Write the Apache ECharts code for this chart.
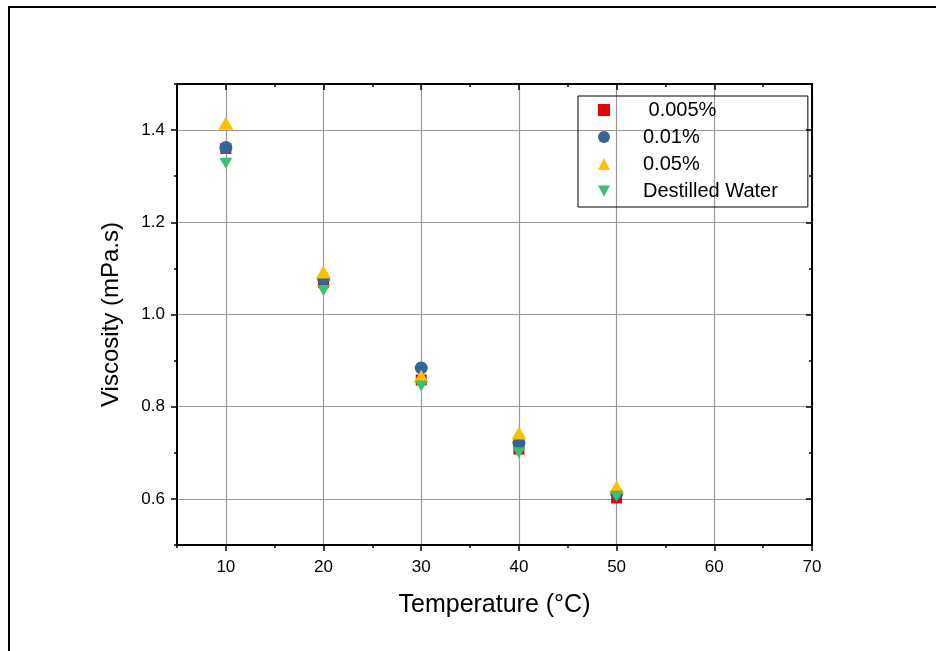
<!DOCTYPE html>
<html>
<head>
<meta charset="utf-8">
<script src="https://cdn.jsdelivr.net/npm/echarts@6/dist/echarts.min.js"></script>
<style>
  html, body { margin: 0; padding: 0; background: #fff; }
  #chart { width: 936px; height: 651px; }
</style>
</head>
<body>
<div id="chart"></div>
<script>
const temps = [10, 20, 30, 40, 50]
const visc005 = [1.360, 1.070, 0.858, 0.708, 0.602]
const visc01 = [1.362, 1.077, 0.884, 0.721, 0.612]
const visc05 = [1.415, 1.092, 0.866, 0.743, 0.626]
const water = [1.328, 1.052, 0.845, 0.700, 0.606]

const xTicks = [10, 20, 30, 40, 50, 60, 70]
const yTicks = [0.6, 0.8, 1.0, 1.2, 1.4]

const font = 'Liberation Sans, Arial, sans-serif'
const black = '#000'

const pair = (xs, ys) => xs.map((x, i) => [x, ys[i]])

// main axis: labels + long ticks on custom values, plus grid lines
const mainX = (position, showLabel) => ({
  type: 'value', position, min: 5, max: 70,
  axisLine: { show: true, onZero: false, lineStyle: { color: black, width: 2 } },
  axisTick: { show: true, inside: !showLabel, length: 6, customValues: xTicks, lineStyle: { color: black, width: 1.5 } },
  axisLabel: { show: showLabel, customValues: xTicks, color: black, fontSize: 17, fontFamily: font, margin: 14 },
  splitLine: { show: showLabel, lineStyle: { color: '#999', width: 1.2 } }
})
// minor axis: short ticks every 5
const minorX = (position, inside) => ({
  type: 'value', position, min: 5, max: 70, interval: 5,
  axisLine: { show: false, onZero: false },
  axisTick: { show: true, inside, length: 3, lineStyle: { color: black, width: 1.5 } },
  axisLabel: { show: false },
  splitLine: { show: false }
})
const mainY = (position, showLabel) => ({
  type: 'value', position, min: 0.5, max: 1.5,
  axisLine: { show: true, onZero: false, lineStyle: { color: black, width: 2 } },
  axisTick: { show: true, inside: !showLabel, length: 6, customValues: yTicks, lineStyle: { color: black, width: 1.5 } },
  axisLabel: { show: showLabel, customValues: yTicks, color: black, fontSize: 17, fontFamily: font, margin: 12,
    formatter: v => v.toFixed(1) },
  splitLine: { show: showLabel, lineStyle: { color: '#999', width: 1.2 } }
})
const minorY = (position, inside) => ({
  type: 'value', position, min: 0.5, max: 1.5, interval: 0.1,
  axisLine: { show: false, onZero: false },
  axisTick: { show: true, inside, length: 3, lineStyle: { color: black, width: 1.5 } },
  axisLabel: { show: false },
  splitLine: { show: false }
})

const xAxes = [mainX('bottom', true), minorX('bottom', false), mainX('top', false), minorX('top', true)]
xAxes[0].name = 'Temperature (\u00B0C)'
xAxes[0].nameLocation = 'middle'
xAxes[0].nameGap = 48
xAxes[0].nameTextStyle = { color: black, fontSize: 25, fontFamily: font }

const yAxes = [mainY('left', true), minorY('left', false), mainY('right', false), minorY('right', true)]
yAxes[0].name = 'Viscosity (mPa.s)'
yAxes[0].nameLocation = 'middle'
yAxes[0].nameGap = 54
yAxes[0].nameTextStyle = { color: black, fontSize: 24, fontFamily: font }

const downTri = 'path://M0,0L10,0L5,9Z'

const mk = (name, ys, symbol, size, color) => ({
  name, type: 'scatter', data: pair(temps, ys), symbol, symbolSize: size,
  itemStyle: { color, opacity: 1 }, emphasis: { disabled: true }
})

const chart = echarts.init(document.getElementById('chart'))
chart.setOption({
  animation: false,
  backgroundColor: '#fff',
  grid: { left: 177, top: 84, right: 124, bottom: 106, containLabel: false },
  xAxis: xAxes,
  yAxis: yAxes,
  legend: {
    orient: 'vertical', left: 578, top: 96,
    padding: [4, 30, 6, 20],
    itemWidth: 12, itemHeight: 12, itemGap: 7,
    borderColor: black, borderWidth: 1, borderRadius: 0,
    textStyle: { color: black, fontSize: 20, fontFamily: font, padding: [0, 0, 0, 28] },
    data: [' 0.005%', '0.01%', '0.05%', 'Destilled Water']
  },
  graphic: [{
    type: 'rect', silent: true,
    shape: { x: 9, y: 7, width: 1000, height: 1000 },
    style: { fill: null, stroke: black, lineWidth: 2 }
  }],
  series: [
    mk(' 0.005%', visc005, 'rect', 11, '#e8000b'),
    mk('0.01%', visc01, 'circle', 13, '#33659a'),
    mk('0.05%', visc05, 'triangle', [15, 13], '#ffc000'),
    mk('Destilled Water', water, downTri, [13, 11], '#3dbf6e')
  ]
})
</script>
</body>
</html>
